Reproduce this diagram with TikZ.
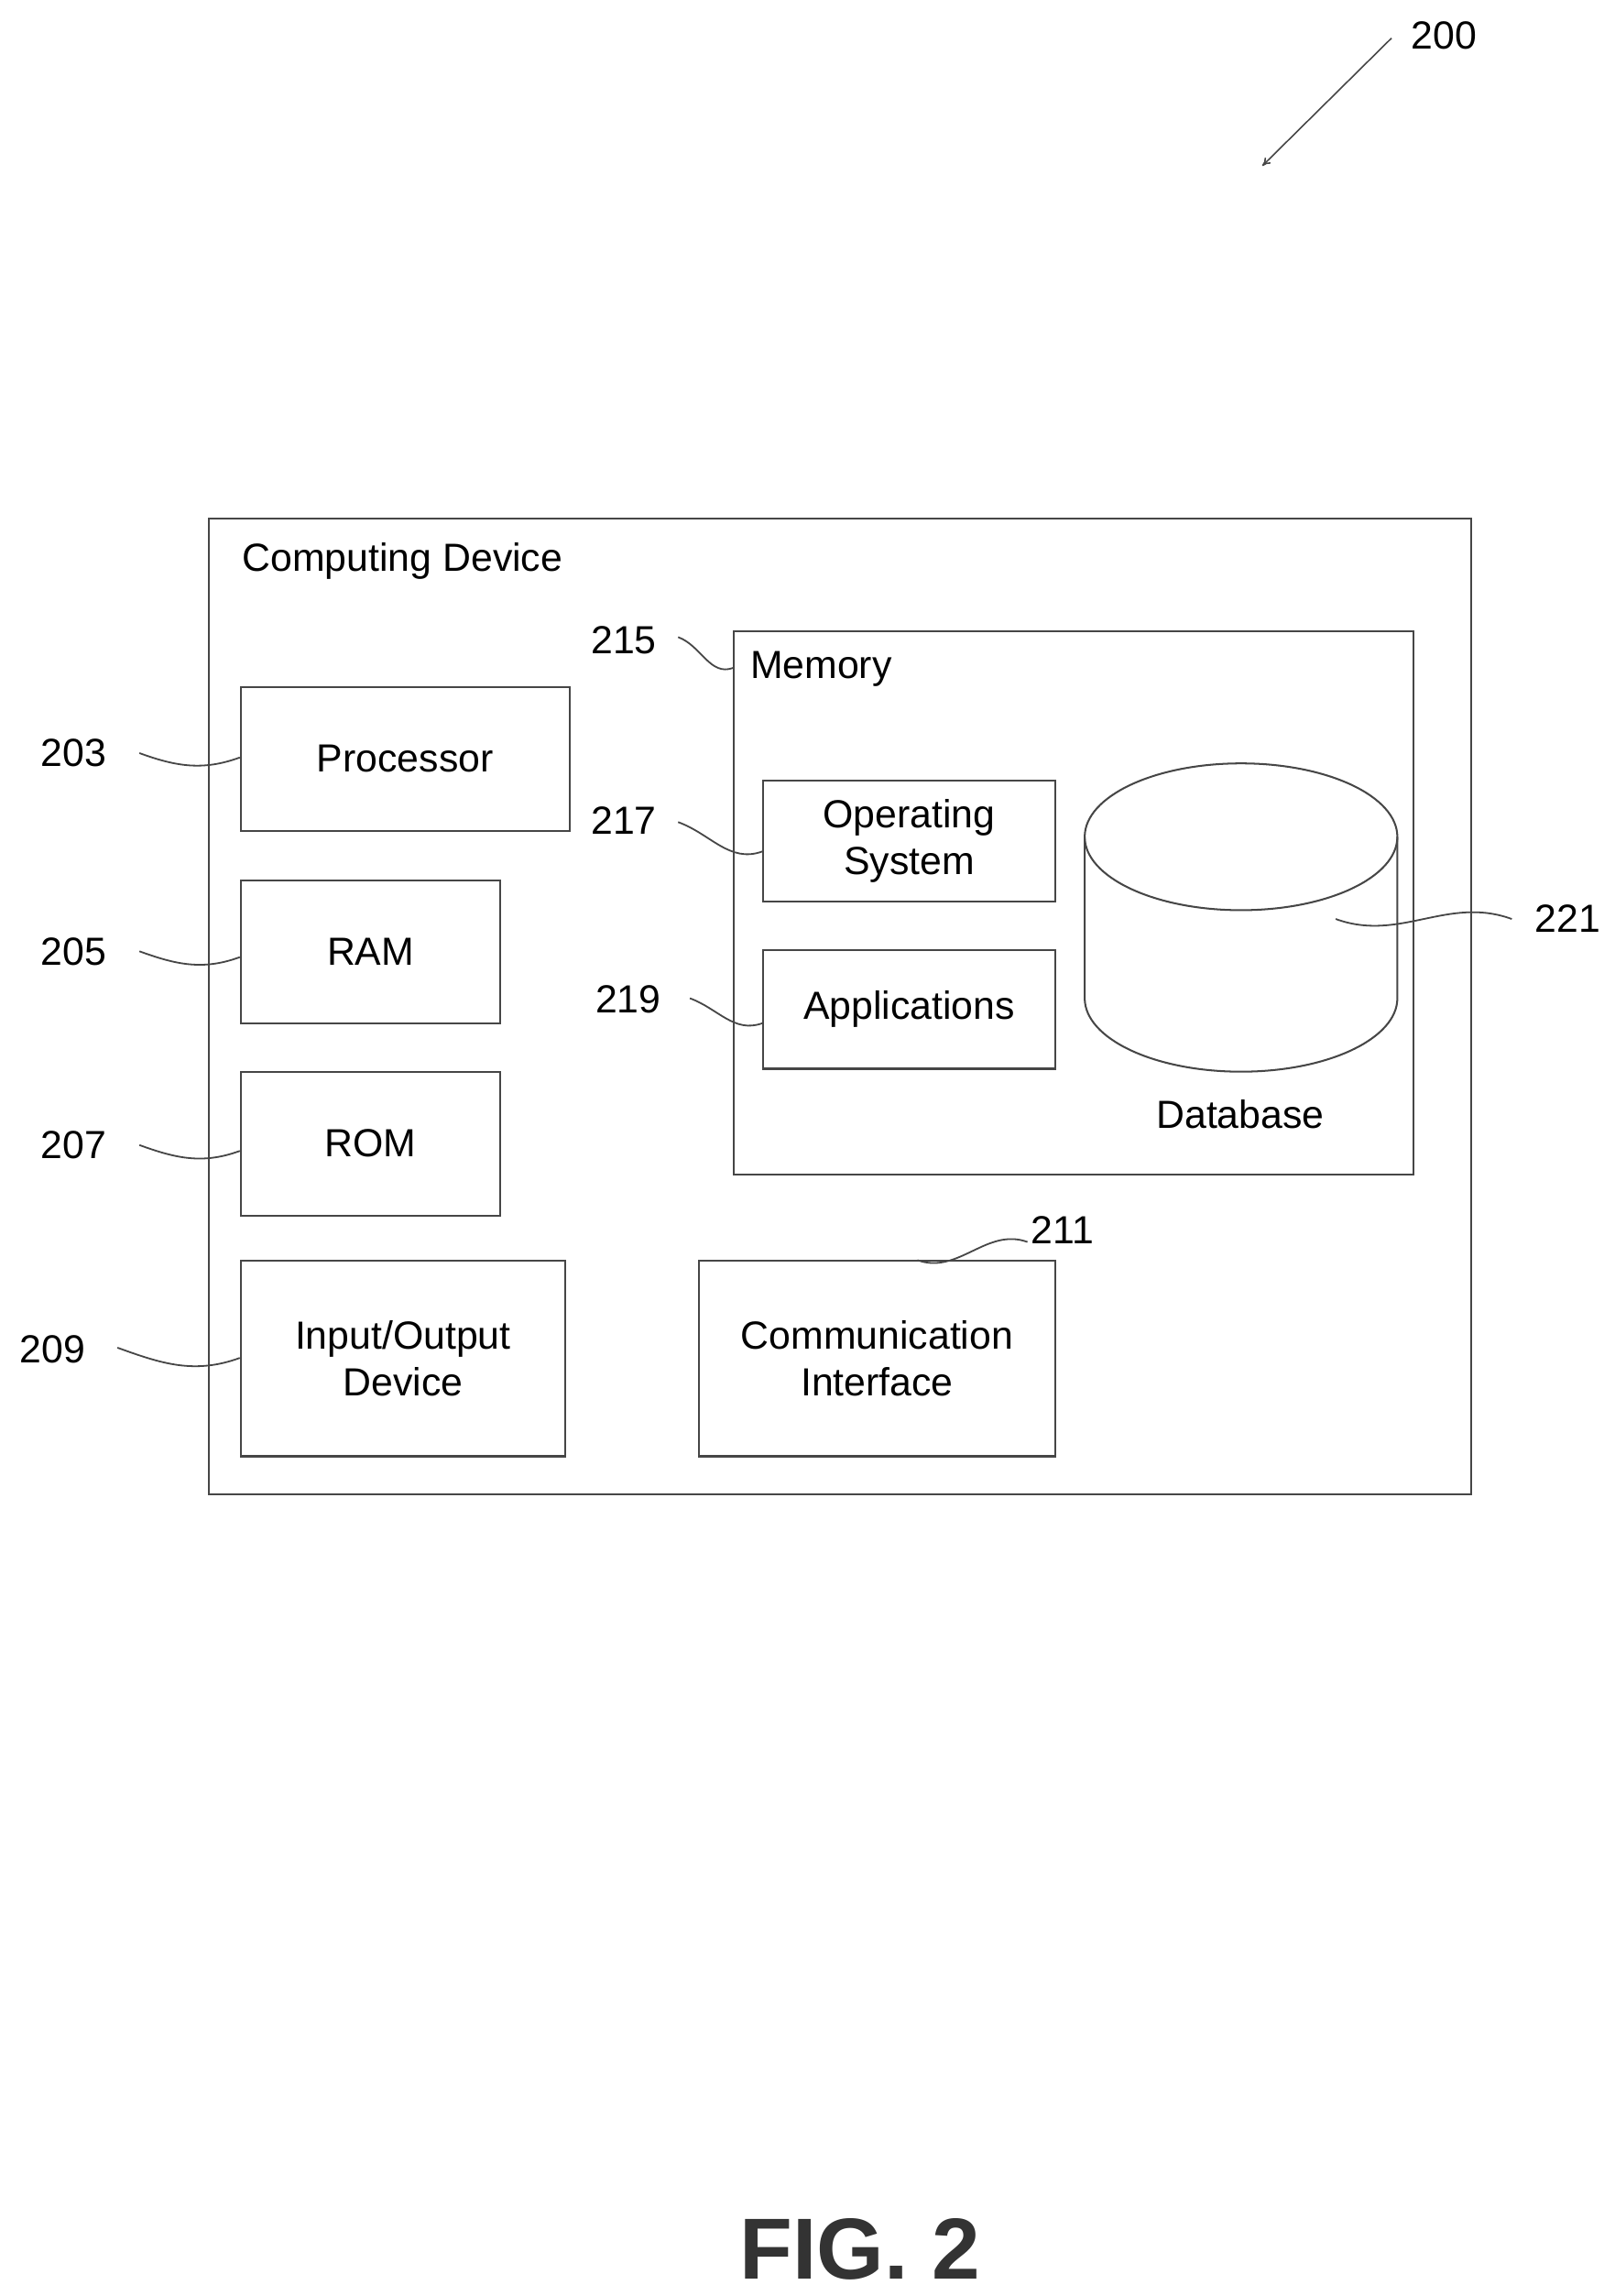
\documentclass[tikz,border=0pt]{standalone}
\usepackage{fontspec}
\setmainfont{Liberation Sans}
\usetikzlibrary{arrows.meta}
\begin{document}
\begin{tikzpicture}[x=0.05cm,y=-0.05cm,
  box/.style={draw=lc,line width=1.8pt,inner sep=0pt,align=center,font=\fontsize{38}{45}\selectfont},
  txt/.style={inner sep=0pt,font=\fontsize{38}{45}\selectfont},
  lead/.style={draw=lc,line width=1.6pt}]
\definecolor{lc}{RGB}{70,70,70}
\useasboundingbox[fill=white] (0,0) rectangle (1100,1564);
\node[box,minimum width=860*0.05cm,minimum height=665*0.05cm] (outer) at (572,685.5) {};
\node[txt,anchor=west] (cdl) at (165,382) {Computing Device};
\node[box,minimum width=463*0.05cm,minimum height=370*0.05cm] (mem) at (731.5,615) {};
\node[txt,anchor=west] (meml) at (511,456) {Memory};
\node[box,minimum width=224*0.05cm,minimum height=98*0.05cm] (proc) at (276,517) {Processor};
\node[box,minimum width=177*0.05cm,minimum height=97*0.05cm] (ram) at (252.5,648.5) {RAM};
\node[box,minimum width=177*0.05cm,minimum height=98*0.05cm] (rom) at (252.5,779) {ROM};
\node[box,minimum width=221*0.05cm,minimum height=133*0.05cm] (io) at (274.5,925.5) {Input/Output\\Device};
\node[box,minimum width=243*0.05cm,minimum height=133*0.05cm] (comm) at (597.5,925.5) {Communication\\Interface};
\node[box,minimum width=199*0.05cm,minimum height=82*0.05cm] (os) at (619.5,573) {Operating\\System};
\node[box,minimum width=199*0.05cm,minimum height=81*0.05cm] (apps) at (619.5,687.5) {Applications};
% database cylinder
\draw[lc,line width=1.8pt] (739,570) arc[start angle=180,end angle=-180,x radius=106.5,y radius=50];
\draw[lc,line width=1.8pt] (739,570) -- (739,680) arc[start angle=180,end angle=0,x radius=106.5,y radius=50] -- (952,570);
\node[txt] (dbl) at (845,759) {Database};
\coordinate (dbp) at (910,626);
% labels
\node[txt] (l200) at (984,24) {200};
\coordinate (a200) at (860,113);
\draw[lc,line width=1.4pt,-{To[length=8pt,width=8pt]}] (948,26) -- (a200);
\node[txt] (l203) at (50,513) {203};
\node[txt] (l205) at (50,648) {205};
\node[txt] (l207) at (50,780) {207};
\node[txt] (l209) at (36,919) {209};
\node[txt] (l215) at (425,436) {215};
\node[txt] (l217) at (425,559) {217};
\node[txt] (l219) at (428,681) {219};
\node[txt] (l221) at (1068,626) {221};
\node[txt] (l211) at (724,838) {211};
\draw[lead] (95,513) to[out=-20,in=200] (proc.west|-0,516);
\draw[lead] (95,648) to[out=-20,in=200] (ram.west|-0,652);
\draw[lead] (95,780) to[out=-20,in=200] (rom.west|-0,784);
\draw[lead] (80,918) to[out=-20,in=200] (io.west|-0,925);
\draw[lead] (462,434) to[out=-20,in=200] (mem.west|-0,455);
\draw[lead] (462,560) to[out=-20,in=200] (os.west|-0,580);
\draw[lead] (470,680) to[out=-20,in=200] (apps.west|-0,697);
\draw[lead] (1030,626) to[out=160,in=-20] (dbp);
\draw[lead] (700,846) to[out=160,in=-20] (comm.north-|625,0);
\node[inner sep=0pt,font=\fontsize{84}{96}\selectfont\bfseries,text=black!80] (fig) at (586,1532) {FIG. 2};
\end{tikzpicture}
\end{document}
